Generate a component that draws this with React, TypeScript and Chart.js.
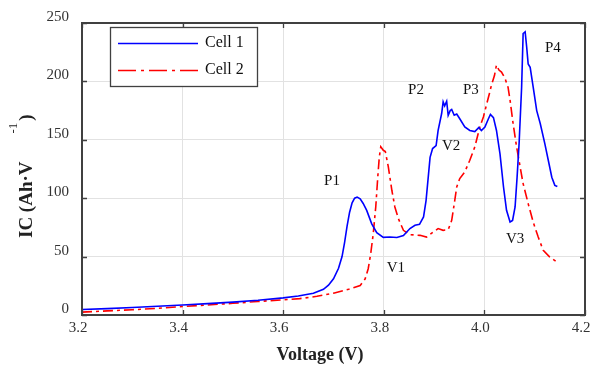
import React, { useEffect, useRef } from "react";
import { Chart, registerables } from "chart.js";

Chart.register(...registerables);

const cell1V = [3.2, 3.25, 3.3, 3.35, 3.4, 3.45, 3.5, 3.55, 3.6, 3.63, 3.66, 3.68, 3.69, 3.7, 3.71, 3.717, 3.722, 3.727, 3.732, 3.737, 3.742, 3.747, 3.753, 3.759, 3.766, 3.776, 3.786, 3.799, 3.812, 3.826, 3.839, 3.852, 3.862, 3.871, 3.879, 3.884, 3.889, 3.892, 3.897, 3.904, 3.908, 3.915, 3.918, 3.921, 3.925, 3.928, 3.932, 3.935, 3.94, 3.945, 3.951, 3.961, 3.971, 3.981, 3.989, 3.994, 4.001, 4.008, 4.012, 4.018, 4.024, 4.031, 4.038, 4.044, 4.051, 4.056, 4.061, 4.065, 4.069, 4.074, 4.077, 4.081, 4.084, 4.087, 4.091, 4.097, 4.104, 4.111, 4.12, 4.127, 4.134, 4.14, 4.145];
const cell1IC = [4.7, 5.5, 6.4, 7.5, 8.6, 9.7, 11.0, 12.6, 14.7, 16.3, 18.6, 22, 25.5, 31, 40, 50, 62, 76, 88, 96, 100, 101, 99.5, 95.5, 89.6, 78, 70.5, 66.5, 66.8, 66.3, 68, 74, 76.8, 77.6, 84, 98, 121, 135, 142.5, 145, 158, 172.5, 182.5, 179, 183, 171, 175, 176, 171, 172, 168, 161, 158, 157, 160.5, 158, 161, 168, 171.7, 169, 158, 138, 109.6, 89.6, 79.6, 81, 92.5, 118, 147, 195, 241, 242.5, 229.7, 215, 212, 195, 175, 164, 147, 132.5, 118, 111, 110];

const cell2V = [3.2, 3.25, 3.3, 3.35, 3.4, 3.45, 3.5, 3.55, 3.6, 3.633, 3.667, 3.7, 3.73, 3.753, 3.763, 3.769, 3.774, 3.779, 3.784, 3.788, 3.791, 3.794, 3.799, 3.803, 3.809, 3.816, 3.822, 3.829, 3.839, 3.852, 3.872, 3.885, 3.898, 3.908, 3.918, 3.928, 3.935, 3.94, 3.945, 3.951, 3.961, 3.971, 3.981, 3.991, 3.998, 4.004, 4.01, 4.014, 4.02, 4.024, 4.029, 4.034, 4.041, 4.047, 4.051, 4.057, 4.064, 4.071, 4.077, 4.087, 4.097, 4.107, 4.117, 4.13, 4.144];
const cell2IC = [2.5, 3.5, 4.5, 5.7, 7.3, 8.6, 10.0, 11.6, 13.0, 14, 16, 18.7, 22, 25.3, 31, 39.6, 52.5, 69.6, 92.5, 118, 135, 144, 141, 140, 126.8, 106.8, 92.5, 82.5, 72.5, 68.8, 68.2, 66.7, 71, 74, 72.5, 73, 81, 95, 109.6, 116.8, 122.5, 132.5, 144, 161, 169.6, 179.7, 189.7, 196.8, 205, 214, 209.7, 208, 202.6, 195, 184, 164, 144, 126.8, 112.5, 95.4, 79.6, 66.7, 55.3, 49.6, 45.3];

const seriesNames = ["Cell 1", "Cell 2"];
const seriesColors = ["#0000ff", "#ff0000"];

const xTicks = [3.2, 3.4, 3.6, 3.8, 4.0, 4.2];
const yTicks = [0, 50, 100, 150, 200, 250];

const markLabels = ["P1", "V1", "P2", "V2", "P3", "V3", "P4"];
const markV = [3.697, 3.824, 3.864, 3.934, 3.973, 4.061, 4.136];
const markIC = [114.5, 40, 192.5, 144.5, 192.5, 65, 228.6];

const xTitle = "Voltage (V)";
const yTitleMain = "IC (Ah·V";
const yTitleSup = "-1";
const yTitleEnd = ")";

const SERIF = '"Liberation Serif", "Times New Roman", serif';
const DASH = [10, 4, 3, 4];

const decorPlugin = {
  id: "decor",
  afterDatasetsDraw(chart: any) {
    const ctx = chart.ctx;
    const xs = chart.scales.x;
    const ys = chart.scales.y;
    ctx.save();
    ctx.fillStyle = "#111";
    ctx.font = `15px ${SERIF}`;
    ctx.textAlign = "center";
    ctx.textBaseline = "middle";
    markLabels.forEach((t, i) => {
      ctx.fillText(t, xs.getPixelForValue(markV[i]), ys.getPixelForValue(markIC[i]));
    });
    ctx.restore();
  },
  afterDraw(chart: any) {
    const ctx = chart.ctx;
    const a = chart.chartArea;
    const xs = chart.scales.x;
    const ys = chart.scales.y;
    ctx.save();
    ctx.strokeStyle = "#404040";
    ctx.lineWidth = 2;
    ctx.strokeRect(a.left, a.top, a.right - a.left, a.bottom - a.top);
    ctx.lineWidth = 1.3;
    const L = 5;
    ctx.beginPath();
    xTicks.forEach((v) => {
      const p = Math.round(xs.getPixelForValue(v)) + 0.5;
      ctx.moveTo(p, a.bottom);
      ctx.lineTo(p, a.bottom - L);
      ctx.moveTo(p, a.top);
      ctx.lineTo(p, a.top + L);
    });
    yTicks.forEach((v) => {
      const p = Math.round(ys.getPixelForValue(v)) + 0.5;
      ctx.moveTo(a.left, p);
      ctx.lineTo(a.left + L, p);
      ctx.moveTo(a.right, p);
      ctx.lineTo(a.right - L, p);
    });
    ctx.stroke();

    const lx = 110, ly = 27, lw = 147, lh = 59;
    ctx.fillStyle = "#fff";
    ctx.fillRect(lx, ly, lw, lh);
    ctx.strokeStyle = "#404040";
    ctx.lineWidth = 1.3;
    ctx.strokeRect(lx + 0.5, ly + 0.5, lw, lh);
    const rows = [43, 70];
    seriesNames.forEach((name, i) => {
      ctx.beginPath();
      ctx.strokeStyle = seriesColors[i];
      ctx.lineWidth = 1.6;
      ctx.setLineDash(i === 1 ? [18, 5, 3, 5] : []);
      ctx.moveTo(118, rows[i] + 0.5);
      ctx.lineTo(198, rows[i] + 0.5);
      ctx.stroke();
      ctx.setLineDash([]);
      ctx.fillStyle = "#111";
      ctx.font = `16px ${SERIF}`;
      ctx.textAlign = "left";
      ctx.textBaseline = "middle";
      ctx.fillText(name, 205, rows[i]);
    });

    ctx.fillStyle = "#222";
    ctx.font = `bold 18px ${SERIF}`;
    ctx.textAlign = "center";
    ctx.textBaseline = "middle";
    ctx.fillText(xTitle, 320, 355);

    ctx.save();
    ctx.translate(27, 238);
    ctx.rotate(-Math.PI / 2);
    ctx.textAlign = "left";
    ctx.textBaseline = "middle";
    ctx.font = `bold 19px ${SERIF}`;
    ctx.fillText(yTitleMain, 0, 0);
    const w1 = ctx.measureText(yTitleMain).width;
    ctx.font = `13px ${SERIF}`;
    ctx.fillText(yTitleSup, w1 + 28, -13);
    const w2 = ctx.measureText(yTitleSup).width;
    ctx.font = `bold 19px ${SERIF}`;
    ctx.fillText(yTitleEnd, w1 + 28 + w2 + 2, 0);
    ctx.restore();

    ctx.restore();
  },
};

export default function App() {
  const ref = useRef<HTMLCanvasElement | null>(null);
  useEffect(() => {
    if (!ref.current) return;
    const tickFont = { family: SERIF, size: 15 };
    const chart = new Chart(ref.current, {
      type: "line",
      data: {
        datasets: [
          {
            label: seriesNames[0],
            data: cell1V.map((v, i) => ({ x: v, y: cell1IC[i] })),
            borderColor: seriesColors[0],
            borderWidth: 1.6,
            pointRadius: 0,
            tension: 0,
            fill: false,
          },
          {
            label: seriesNames[1],
            data: cell2V.map((v, i) => ({ x: v, y: cell2IC[i] })),
            borderColor: seriesColors[1],
            borderWidth: 1.6,
            borderDash: DASH,
            pointRadius: 0,
            tension: 0,
            fill: false,
          },
        ],
      },
      options: {
        responsive: false,
        animation: false,
        layout: { padding: { top: 23, right: 7, left: 0, bottom: 0 } },
        plugins: { legend: { display: false }, tooltip: { enabled: false } },
        scales: {
          x: {
            type: "linear",
            min: 3.2,
            max: 4.2,
            afterFit(s: any) {
              s.height = 50;
              s.paddingLeft = 0;
              s.paddingRight = 0;
            },
            afterBuildTicks(s: any) {
              s.ticks = xTicks.map((v) => ({ value: v }));
            },
            ticks: {
              font: tickFont,
              color: "#333",
              padding: 4,
              labelOffset: -4,
              maxRotation: 0,
              callback: (v: any) => Number(v).toFixed(1),
            },
            grid: { color: "#e2e2e2", drawTicks: false },
            border: { display: false },
          },
          y: {
            type: "linear",
            min: 0,
            max: 250,
            afterFit(s: any) {
              s.width = 82;
              s.paddingTop = 0;
              s.paddingBottom = 0;
            },
            afterBuildTicks(s: any) {
              s.ticks = yTicks.map((v) => ({ value: v }));
            },
            ticks: {
              font: tickFont,
              color: "#333",
              padding: 13,
              labelOffset: -6,
              callback: (v: any) => String(v),
            },
            grid: { color: "#e2e2e2", drawTicks: false },
            border: { display: false },
          },
        },
      },
      plugins: [decorPlugin],
    });
    return () => chart.destroy();
  }, []);
  return (
    <div style={{ position: "absolute", left: 0, top: 0, width: 592, height: 365, background: "#fff" }}>
      <canvas ref={ref} width={592} height={365} style={{ display: "block" }} />
    </div>
  );
}
